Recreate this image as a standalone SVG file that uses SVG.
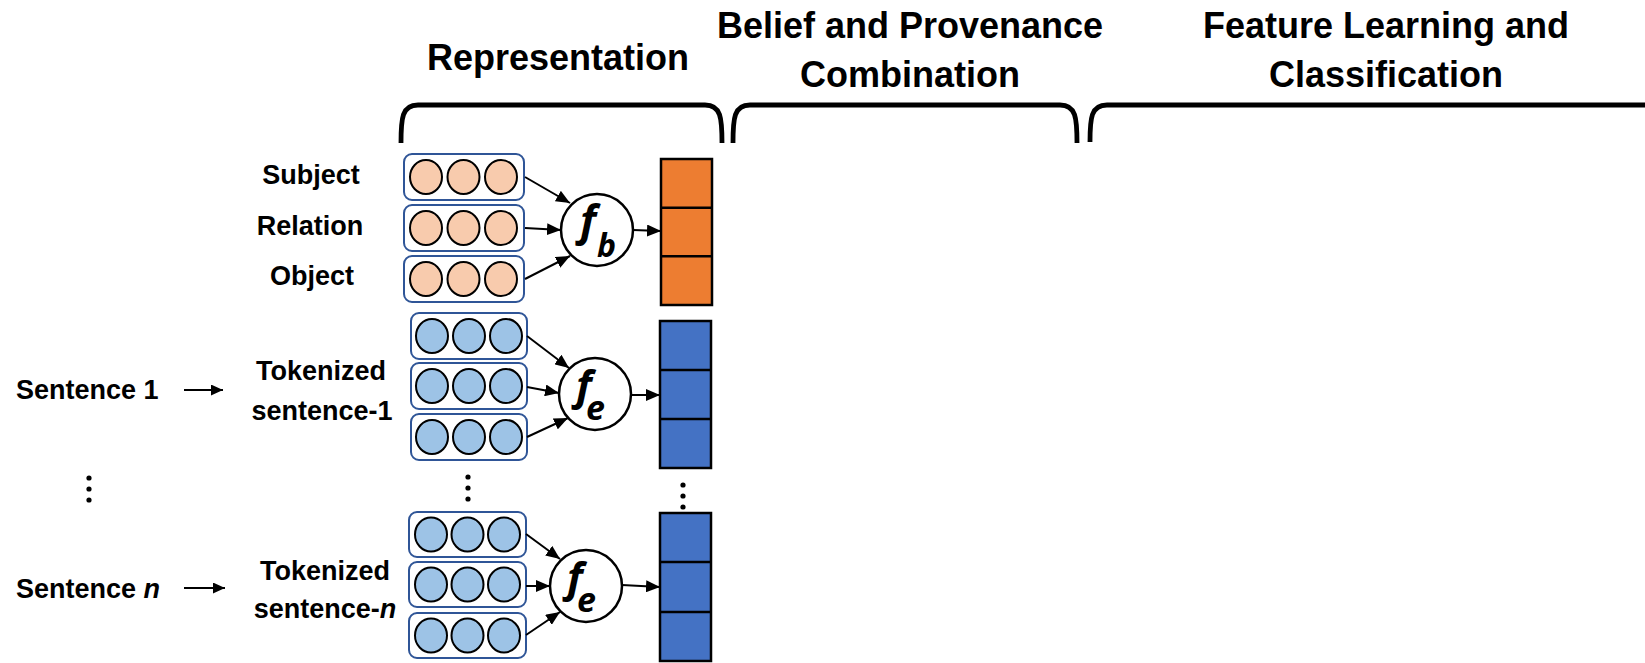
<svg xmlns="http://www.w3.org/2000/svg" width="1645" height="663" viewBox="0 0 1645 663">
  <defs>
    <marker id="ah" markerUnits="userSpaceOnUse" markerWidth="15" markerHeight="12" refX="14" refY="6" orient="auto">
      <path d="M0,0 L14,6 L0,12 z" fill="#000"/>
    </marker>
    <marker id="ahs" markerUnits="userSpaceOnUse" markerWidth="13" markerHeight="11" refX="12" refY="5.5" orient="auto">
      <path d="M0,0 L12,5.5 L0,11 z" fill="#000"/>
    </marker>
    <style>
      .hdr { font-family: "Liberation Sans", Arial, sans-serif; font-weight: bold; font-size: 36px; fill: #000; text-anchor: middle; }
      .lbl { font-family: "Liberation Sans", Arial, sans-serif; font-weight: bold; font-size: 27px; fill: #000; }
      .mid { text-anchor: middle; }
      .brace { fill: none; stroke: #000; stroke-width: 4.8; stroke-linecap: butt; }
      .box { fill: #fff; stroke: #2F5597; stroke-width: 2; }
      .co { fill: #F8CBAD; stroke: #000; stroke-width: 2; }
      .cb { fill: #9DC3E6; stroke: #000; stroke-width: 2; }
      .fn { fill: #fff; stroke: #000; stroke-width: 2.5; }
      .fx { font-family: "Open Sans", "Liberation Sans", sans-serif; font-weight: bold; font-style: italic; fill: #000; }
      .vo { fill: #ED7D31; stroke: #000; stroke-width: 2.5; }
      .vb { fill: #4472C4; stroke: #000; stroke-width: 2.5; }
      .sep { stroke: #000; stroke-width: 2.5; }
      .edge { stroke: #000; stroke-width: 2; fill: none; marker-end: url(#ah); }
      .in { stroke: #000; stroke-width: 2.2; fill: none; marker-end: url(#ahs); }
      .dot { fill: #000; }
    </style>
  </defs>

  <rect width="1645" height="663" fill="#fff"/>

  <!-- stage headers with braces -->
  <g id="stage-representation">
    <text class="hdr" x="558" y="70">Representation</text>
    <path class="brace" d="M401,143 C401,118 402,105 418,105 H705 C721,105 722,118 722,143"/>
  </g>
  <g id="stage-combination">
    <text class="hdr" x="910" y="38">Belief and Provenance</text>
    <text class="hdr" x="910" y="87">Combination</text>
    <path class="brace" d="M733,143 C733,118 734,105 750,105 H1060 C1076,105 1077,118 1077,143"/>
  </g>
  <g id="stage-classification">
    <text class="hdr" x="1386" y="38">Feature Learning and</text>
    <text class="hdr" x="1386" y="87">Classification</text>
    <path class="brace" d="M1090,142 C1090,118 1091,105 1107,105 H1650"/>
  </g>

  <!-- triple labels -->
  <g id="labels-triple">
    <text class="lbl mid" x="311" y="184">Subject</text>
    <text class="lbl mid" x="310" y="235">Relation</text>
    <text class="lbl mid" x="312" y="285">Object</text>
  </g>

  <!-- sentence inputs -->
  <g id="sentence-1">
    <text class="lbl" x="16" y="399">Sentence 1</text>
    <text class="lbl mid" x="321" y="380">Tokenized</text>
    <text class="lbl mid" x="322" y="420">sentence-1</text>
  </g>
  <g id="sentence-n">
    <text class="lbl" x="16" y="598">Sentence <tspan font-style="italic">n</tspan></text>
    <text class="lbl mid" x="325" y="580">Tokenized</text>
    <text class="lbl mid" x="325" y="618">sentence-<tspan font-style="italic">n</tspan></text>
  </g>

  <!-- triple embeddings -->
  <g id="emb-triple">
    <rect class="box" x="404" y="154" width="120" height="46" rx="8"/>
    <ellipse class="co" cx="426" cy="177" rx="16" ry="17"/>
    <ellipse class="co" cx="463.5" cy="177" rx="16" ry="17"/>
    <ellipse class="co" cx="501" cy="177" rx="16" ry="17"/>
    <rect class="box" x="404" y="205" width="120" height="46" rx="8"/>
    <ellipse class="co" cx="426" cy="228" rx="16" ry="17"/>
    <ellipse class="co" cx="463.5" cy="228" rx="16" ry="17"/>
    <ellipse class="co" cx="501" cy="228" rx="16" ry="17"/>
    <rect class="box" x="404" y="256" width="120" height="46" rx="8"/>
    <ellipse class="co" cx="426" cy="279" rx="16" ry="17"/>
    <ellipse class="co" cx="463.5" cy="279" rx="16" ry="17"/>
    <ellipse class="co" cx="501" cy="279" rx="16" ry="17"/>
  </g>

  <!-- sentence-1 token embeddings -->
  <g id="emb-sentence-1">
    <rect class="box" x="411" y="313" width="116" height="46" rx="8"/>
    <ellipse class="cb" cx="432" cy="336" rx="16" ry="17"/>
    <ellipse class="cb" cx="469" cy="336" rx="16" ry="17"/>
    <ellipse class="cb" cx="506" cy="336" rx="16" ry="17"/>
    <rect class="box" x="411" y="363" width="116" height="46" rx="8"/>
    <ellipse class="cb" cx="432" cy="386" rx="16" ry="17"/>
    <ellipse class="cb" cx="469" cy="386" rx="16" ry="17"/>
    <ellipse class="cb" cx="506" cy="386" rx="16" ry="17"/>
    <rect class="box" x="411" y="414" width="116" height="46" rx="8"/>
    <ellipse class="cb" cx="432" cy="437" rx="16" ry="17"/>
    <ellipse class="cb" cx="469" cy="437" rx="16" ry="17"/>
    <ellipse class="cb" cx="506" cy="437" rx="16" ry="17"/>
  </g>

  <!-- sentence-n token embeddings -->
  <g id="emb-sentence-n">
    <rect class="box" x="409" y="512" width="117" height="45" rx="8"/>
    <ellipse class="cb" cx="431" cy="534.5" rx="16" ry="17"/>
    <ellipse class="cb" cx="467.5" cy="534.5" rx="16" ry="17"/>
    <ellipse class="cb" cx="504" cy="534.5" rx="16" ry="17"/>
    <rect class="box" x="409" y="562" width="117" height="45" rx="8"/>
    <ellipse class="cb" cx="431" cy="584.5" rx="16" ry="17"/>
    <ellipse class="cb" cx="467.5" cy="584.5" rx="16" ry="17"/>
    <ellipse class="cb" cx="504" cy="584.5" rx="16" ry="17"/>
    <rect class="box" x="409" y="613" width="117" height="45" rx="8"/>
    <ellipse class="cb" cx="431" cy="635.5" rx="16" ry="17"/>
    <ellipse class="cb" cx="467.5" cy="635.5" rx="16" ry="17"/>
    <ellipse class="cb" cx="504" cy="635.5" rx="16" ry="17"/>
  </g>

  <!-- encoder functions (f with subscript) -->
  <g id="fn-b">
    <circle class="fn" cx="597" cy="230" r="36"/>
    <text class="fx" x="580" y="236"><tspan font-size="43">f</tspan><tspan x="597" y="257" font-size="32">b</tspan></text>
  </g>
  <g id="fn-e1">
    <circle class="fn" cx="595" cy="394" r="36"/>
    <text class="fx" x="576" y="400"><tspan font-size="42">f</tspan><tspan x="586" y="420" font-size="34">e</tspan></text>
  </g>
  <g id="fn-e2">
    <circle class="fn" cx="586" cy="586" r="36"/>
    <text class="fx" x="567" y="592"><tspan font-size="42">f</tspan><tspan x="577" y="612" font-size="34">e</tspan></text>
  </g>

  <!-- output vectors -->
  <g id="vec-belief">
    <rect class="vo" x="661" y="159" width="51" height="146"/>
    <line class="sep" x1="661" y1="207.7" x2="712" y2="207.7"/>
    <line class="sep" x1="661" y1="256.3" x2="712" y2="256.3"/>
  </g>
  <g id="vec-evidence-1">
    <rect class="vb" x="660" y="321" width="51" height="147"/>
    <line class="sep" x1="660" y1="370" x2="711" y2="370"/>
    <line class="sep" x1="660" y1="419" x2="711" y2="419"/>
  </g>
  <g id="vec-evidence-n">
    <rect class="vb" x="660" y="513" width="51" height="148"/>
    <line class="sep" x1="660" y1="562" x2="711" y2="562"/>
    <line class="sep" x1="660" y1="612" x2="711" y2="612"/>
  </g>

  <!-- ellipsis marks -->
  <g id="ellipses">
    <circle class="dot" cx="89" cy="478" r="2.6"/>
    <circle class="dot" cx="89" cy="489" r="2.6"/>
    <circle class="dot" cx="89" cy="500" r="2.6"/>
    <circle class="dot" cx="468" cy="477" r="2.6"/>
    <circle class="dot" cx="468" cy="488" r="2.6"/>
    <circle class="dot" cx="468" cy="499" r="2.6"/>
    <circle class="dot" cx="683" cy="485" r="2.6"/>
    <circle class="dot" cx="683" cy="496" r="2.6"/>
    <circle class="dot" cx="683" cy="507" r="2.6"/>
  </g>

  <!-- connectors -->
  <g id="connectors">
    <line class="in" x1="184" y1="390" x2="223" y2="390"/>
    <line class="in" x1="184" y1="588" x2="225" y2="588"/>

    <line class="edge" x1="525" y1="177" x2="570" y2="203"/>
    <line class="edge" x1="525" y1="228" x2="561" y2="230"/>
    <line class="edge" x1="525" y1="279" x2="570" y2="256"/>
    <line class="edge" x1="633" y1="230" x2="661" y2="231"/>

    <line class="edge" x1="527" y1="336" x2="569" y2="368"/>
    <line class="edge" x1="527" y1="387" x2="559" y2="393"/>
    <line class="edge" x1="527" y1="437" x2="568" y2="418"/>
    <line class="edge" x1="631" y1="395" x2="660" y2="395"/>

    <line class="edge" x1="526" y1="534" x2="560" y2="559"/>
    <line class="edge" x1="526" y1="586" x2="550" y2="586"/>
    <line class="edge" x1="526" y1="635" x2="560" y2="612"/>
    <line class="edge" x1="622" y1="585" x2="660" y2="587"/>
  </g>
</svg>
